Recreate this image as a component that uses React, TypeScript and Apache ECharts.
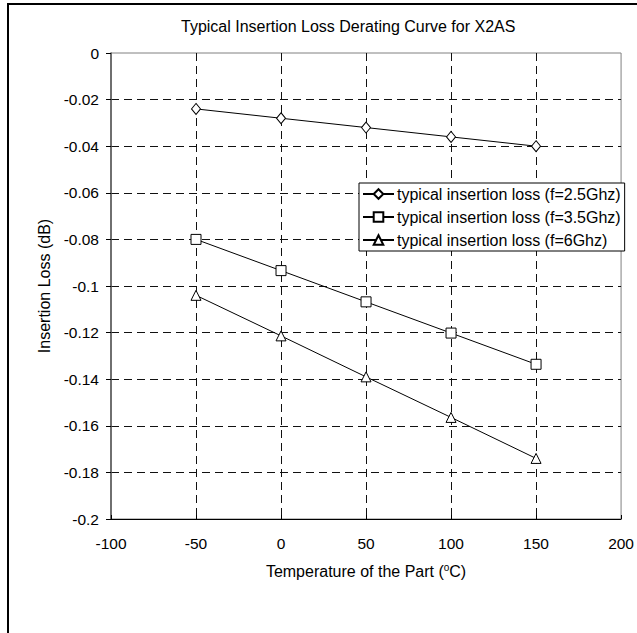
import React, { useEffect, useRef } from "react";
import * as echarts from "echarts";

const titleText = "Typical Insertion Loss Derating Curve for X2AS";
const xName = "Temperature of the Part (";
const yName = "Insertion Loss (dB)";
const seriesNames = [
  "typical insertion loss (f=2.5Ghz)",
  "typical insertion loss (f=3.5Ghz)",
  "typical insertion loss (f=6Ghz)",
];
const temperatures = [-50, 0, 50, 100, 150];
const loss25 = [-0.024, -0.028, -0.032, -0.036, -0.04];
const loss35 = [-0.08, -0.0934, -0.1068, -0.1202, -0.1336];
const loss6 = [-0.104, -0.1214, -0.139, -0.1564, -0.174];
const xTickLabels = ["-100", "-50", "0", "50", "100", "150", "200"];
const yTickLabels = ["-0.2", "-0.18", "-0.16", "-0.14", "-0.12", "-0.1", "-0.08", "-0.06", "-0.04", "-0.02", "0"];
const X_MIN = -100, X_MAX = 200, X_STEP = 50;
const Y_MIN = -0.2, Y_MAX = 0, Y_STEP = 0.02;

const FONT = "'Liberation Sans', Arial, sans-serif";

export default function App() {
  const ref = useRef<HTMLDivElement>(null);
  useEffect(() => {
    document.body.style.margin = "0";
    const chart = echarts.init(ref.current!, undefined, { renderer: "svg" });
    const pairs = (ys: number[]) => temperatures.map((t, i) => [t, ys[i]]);
    const mk = (name: string, ys: number[], symbol: string, size: any) => ({
      name,
      type: "line",
      data: pairs(ys),
      symbol,
      symbolSize: size,
      showAllSymbol: true,
      color: "#000",
      lineStyle: { color: "#000", width: 1 },
      itemStyle: { color: "#fff", borderColor: "#000", borderWidth: 1 },
      z: 5,
    });
    chart.setOption({
      animation: false,
      backgroundColor: "#fff",
      textStyle: { fontFamily: FONT, color: "#000" },
      title: {
        text: titleText,
        left: 181,
        top: 18,
        padding: 0,
        textStyle: { fontFamily: FONT, fontSize: 16, fontWeight: "normal", color: "#000" },
      },
      graphic: [
        {
          type: "rect",
          shape: { x: 8, y: 4, width: 900, height: 900 },
          style: { fill: "none", stroke: "#000", lineWidth: 2 },
          silent: true,
          z: 100,
        },
      ],
      legend: {
        orient: "vertical",
        left: 359,
        top: 183,
        padding: [3, 4, 3, 3],
        itemGap: 7,
        itemWidth: 31,
        itemHeight: 12,
        backgroundColor: "#fff",
        borderColor: "#000",
        borderWidth: 1,
        borderRadius: 0,
        textStyle: { fontFamily: FONT, fontSize: 16, color: "#000", padding: [0, 0, 0, -2] },
        data: seriesNames,
        z: 10,
      },
      grid: {
        left: 111,
        right: 13,
        top: 53,
        bottom: 114,
        show: true,
        borderColor: "#808080",
        borderWidth: 1,
        backgroundColor: "#fff",
      },
      xAxis: {
        type: "value",
        min: X_MIN,
        max: X_MAX,
        interval: X_STEP,
        name: xName + "{sup|o}C)",
        nameLocation: "middle",
        nameGap: 43,
        nameTextStyle: {
          fontFamily: FONT,
          fontSize: 16,
          color: "#000",
          lineHeight: 18,
          rich: { sup: { fontSize: 10, verticalAlign: "top", lineHeight: 18, fontFamily: FONT, color: "#000" } },
        },
        axisLine: { show: true, onZero: false, lineStyle: { color: "#000", width: 1 } },
        axisTick: { show: true, inside: true, length: 4, lineStyle: { color: "#000" } },
        axisLabel: {
          margin: 16,
          fontSize: 15.5,
          fontFamily: FONT,
          color: "#000",
          formatter: (v: number) => xTickLabels[Math.round((v - X_MIN) / X_STEP)] ?? "",
        },
        splitLine: {
          show: true,
          showMinLine: false,
          showMaxLine: false,
          lineStyle: { color: "#111", type: [8, 5], width: 1 },
        },
      },
      yAxis: {
        type: "value",
        min: Y_MIN,
        max: Y_MAX,
        interval: Y_STEP,
        name: yName,
        nameLocation: "middle",
        nameRotate: 90,
        nameGap: 56,
        nameTextStyle: { fontFamily: FONT, fontSize: 16, color: "#000" },
        axisLine: { show: true, onZero: false, lineStyle: { color: "#555", width: 1.5 } },
        axisTick: { show: true, inside: false, length: 5, lineStyle: { color: "#000" } },
        axisLabel: {
          margin: 12,
          fontSize: 15.5,
          fontFamily: FONT,
          color: "#000",
          formatter: (v: number) => yTickLabels[Math.round((v - Y_MIN) / Y_STEP)] ?? "",
        },
        splitLine: {
          show: true,
          showMinLine: false,
          showMaxLine: false,
          lineStyle: { color: "#111", type: [8, 5], width: 1 },
        },
      },
      series: [
        mk(seriesNames[0], loss25, "diamond", [9, 11]),
        mk(seriesNames[1], loss35, "rect", 10),
        mk(seriesNames[2], loss6, "triangle", 10),
      ],
    });
    return () => chart.dispose();
  }, []);
  return <div ref={ref} style={{ width: 637, height: 633 }} />;
}
